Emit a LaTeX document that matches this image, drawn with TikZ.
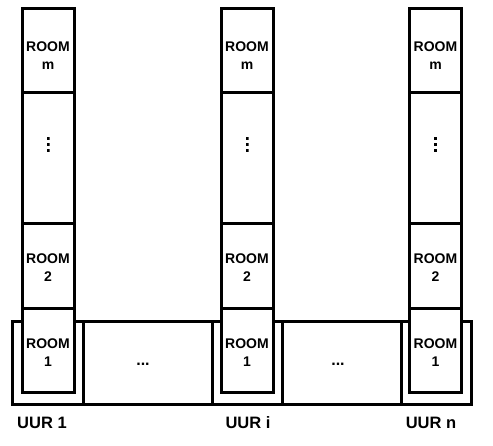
\documentclass[tikz,border=0pt]{standalone}
\usepackage{fontspec}
\setmainfont{Liberation Sans}
\newcommand{\roomcol}[2]{%
  \node[box=52pt,minimum height=84pt] (#1m) at (#2,51) {};
  \node[roomtxt] (#1mt) at (#2,56) {ROOM\\m};
  \node[box=52pt,minimum height=131pt] (#1v) at (#2,158.5) {};
  \node[vdot] (#1vt) at (#2,145) {};
  \node[box=52pt,minimum height=85pt] (#1b) at (#2,266.5) {};
  \node[roomtxt] (#1bt) at (#2,268) {ROOM\\2};
  \node[box=52pt,minimum height=84pt] (#1a) at (#2,351) {};
  \node[roomtxt] (#1at) at (#2,353) {ROOM\\1};
}
\begin{document}
\begin{tikzpicture}[x=1pt,y=-1pt,
  box/.style={draw=black,line width=3pt,fill=white,inner sep=0pt,minimum width=#1},
  roomtxt/.style={font=\bfseries\fontsize{14}{18}\selectfont,align=center},
  vdot/.style={inner sep=0pt,minimum width=3pt,minimum height=15pt,
    path picture={\fill[black] ([xshift=-1.5pt]path picture bounding box.north) rectangle ++(3pt,-3pt);
      \fill[black] ([xshift=-1.5pt,yshift=1.5pt]path picture bounding box.center) rectangle ++(3pt,-3pt);
      \fill[black] ([xshift=-1.5pt,yshift=3pt]path picture bounding box.south) rectangle ++(3pt,-3pt);}},
  uurlbl/.style={font=\bfseries\fontsize{16.5}{18}\selectfont,inner sep=0pt}]
\useasboundingbox (0,0) rectangle (493,446);
% bottom strip
\node[box=71pt,minimum height=83pt] (u1) at (47.5,363.5) {};
\node[box=129pt,minimum height=83pt] (d1) at (147.5,363.5) {};
\node[box=70pt,minimum height=83pt] (ui) at (247,363.5) {};
\node[box=119pt,minimum height=83pt] (d2) at (341.5,363.5) {};
\node[box=70pt,minimum height=83pt] (un) at (436,363.5) {};
\node[font=\bfseries\fontsize{16}{16}\selectfont] (e1) at (143,364) {...};
\node[font=\bfseries\fontsize{16}{16}\selectfont] (e2) at (338,364) {...};
% columns
\roomcol{a}{48}
\roomcol{b}{247}
\roomcol{c}{435.5}
\node[uurlbl] (l1) at (42,423) {UUR 1};
\node[uurlbl] (li) at (248,423) {UUR i};
\node[uurlbl] (ln) at (431,423) {UUR n};
\end{tikzpicture}
\end{document}
